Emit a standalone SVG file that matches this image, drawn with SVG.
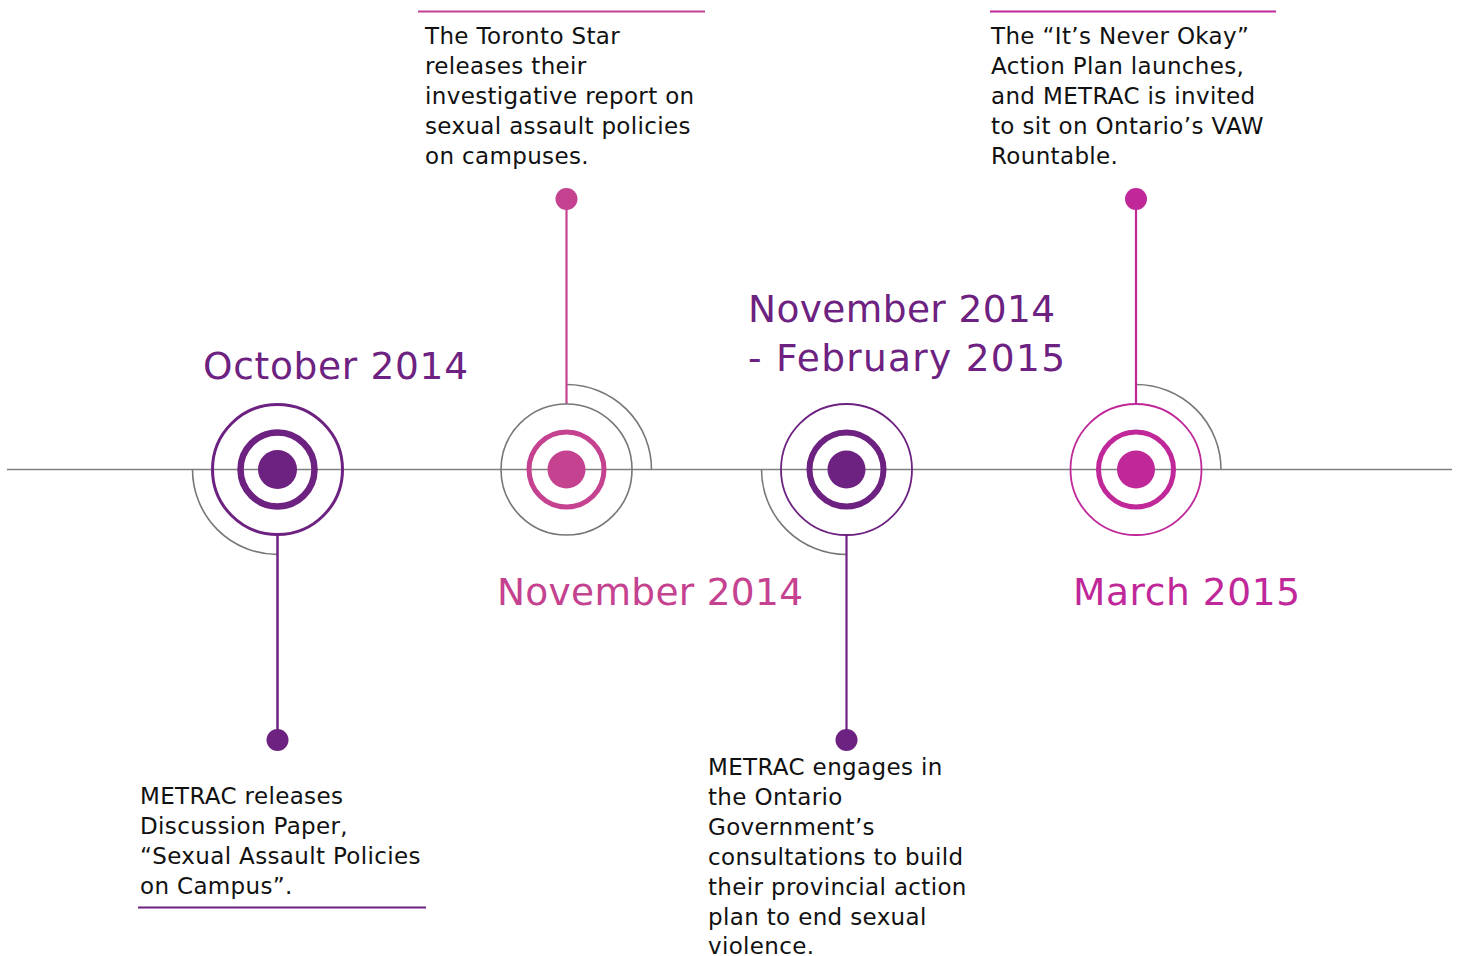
<svg xmlns="http://www.w3.org/2000/svg" width="1457" height="956" viewBox="0 0 1457 956">
<style>
.body{font-family:"DejaVu Sans","Liberation Sans",sans-serif;font-size:23px;fill:#111;letter-spacing:0.35px;}
.head{font-family:"DejaVu Sans","Liberation Sans",sans-serif;font-size:37.5px;}
.purple{fill:#6D2180;}
.pink{fill:#C4428F;}
.mag{fill:#C0289A;}
.gray{fill:none;stroke:#777;stroke-width:1.6;}
</style>
<rect width="1457" height="956" fill="#fff"/>
<g id="connectors">
<line x1="7" y1="469.5" x2="1452" y2="469.5" stroke="#808080" stroke-width="1.6"/>
<path class="gray" d="M192.5,469.5 A85,85 0 0 0 277.5,554.5"/>
<path class="gray" d="M566.5,384.5 A85,85 0 0 1 651.5,469.5"/>
<path class="gray" d="M761.5,469.5 A85,85 0 0 0 846.5,554.5"/>
<path class="gray" d="M1136,384.5 A85,85 0 0 1 1221,469.5"/>
<line x1="277.5" y1="535" x2="277.5" y2="740" stroke="#6D2180" stroke-width="2.5"/>
<line x1="566.5" y1="199" x2="566.5" y2="404" stroke="#C4428F" stroke-width="2.2"/>
<line x1="846.5" y1="535" x2="846.5" y2="740" stroke="#6D2180" stroke-width="2.2"/>
<line x1="1136" y1="199" x2="1136" y2="404" stroke="#C0289A" stroke-width="2.2"/>
<line x1="138" y1="907.5" x2="426" y2="907.5" stroke="#6D2180" stroke-width="1.8"/>
<line x1="418" y1="11.5" x2="705" y2="11.5" stroke="#C4428F" stroke-width="1.8"/>
<line x1="990" y1="11.5" x2="1276" y2="11.5" stroke="#C0289A" stroke-width="1.8"/>
</g>
<g id="node-oct2014">
<circle cx="277.5" cy="469.5" r="65" fill="none" stroke="#6D2180" stroke-width="3"/>
<circle cx="277.5" cy="469.5" r="37" fill="none" stroke="#6D2180" stroke-width="6.5"/>
<circle cx="277.5" cy="469.5" r="19.5" class="purple"/>
<circle cx="277.5" cy="740" r="11" class="purple"/>
<text class="head purple" x="203" y="378.5" textLength="265" lengthAdjust="spacing">October 2014</text>
<text class="body" x="140" y="804">METRAC releases</text>
<text class="body" x="140" y="834">Discussion Paper,</text>
<text class="body" x="140" y="864">“Sexual Assault Policies</text>
<text class="body" x="140" y="894">on Campus”.</text>
</g>
<g id="node-nov2014">
<circle cx="566.5" cy="469.5" r="65.5" fill="none" stroke="#777" stroke-width="1.6"/>
<circle cx="566.5" cy="469.5" r="37.5" fill="none" stroke="#C4428F" stroke-width="5"/>
<circle cx="566.5" cy="469.5" r="19" class="pink"/>
<circle cx="566.5" cy="199" r="11" class="pink"/>
<text class="head pink" x="497" y="604.5" textLength="306" lengthAdjust="spacing">November 2014</text>
<text class="body" x="425" y="44">The Toronto Star</text>
<text class="body" x="425" y="74">releases their</text>
<text class="body" x="425" y="104">investigative report on</text>
<text class="body" x="425" y="134">sexual assault policies</text>
<text class="body" x="425" y="164">on campuses.</text>
</g>
<g id="node-nov2014-feb2015">
<circle cx="846.5" cy="469.5" r="65.5" fill="none" stroke="#6D2180" stroke-width="1.8"/>
<circle cx="846.5" cy="469.5" r="37" fill="none" stroke="#6D2180" stroke-width="6"/>
<circle cx="846.5" cy="469.5" r="19" class="purple"/>
<circle cx="846.5" cy="740" r="11" class="purple"/>
<text class="head purple" x="748" y="322" textLength="307" lengthAdjust="spacing">November 2014</text>
<text class="head purple" x="748" y="371" textLength="317" lengthAdjust="spacing">- February 2015</text>
<text class="body" x="708" y="775">METRAC engages in</text>
<text class="body" x="708" y="805">the Ontario</text>
<text class="body" x="708" y="835">Government’s</text>
<text class="body" x="708" y="865">consultations to build</text>
<text class="body" x="708" y="895">their provincial action</text>
<text class="body" x="708" y="925">plan to end sexual</text>
<text class="body" x="708" y="954">violence.</text>
</g>
<g id="node-mar2015">
<circle cx="1136" cy="469.5" r="65.5" fill="none" stroke="#C0289A" stroke-width="1.8"/>
<circle cx="1136" cy="469.5" r="37.5" fill="none" stroke="#C0289A" stroke-width="5"/>
<circle cx="1136" cy="469.5" r="19" class="mag"/>
<circle cx="1136" cy="199" r="11" class="mag"/>
<text class="head mag" x="1073" y="604.5" textLength="227" lengthAdjust="spacing">March 2015</text>
<text class="body" x="991" y="44">The “It’s Never Okay”</text>
<text class="body" x="991" y="74">Action Plan launches,</text>
<text class="body" x="991" y="104">and METRAC is invited</text>
<text class="body" x="991" y="134">to sit on Ontario’s VAW</text>
<text class="body" x="991" y="164">Rountable.</text>
</g>
</svg>
